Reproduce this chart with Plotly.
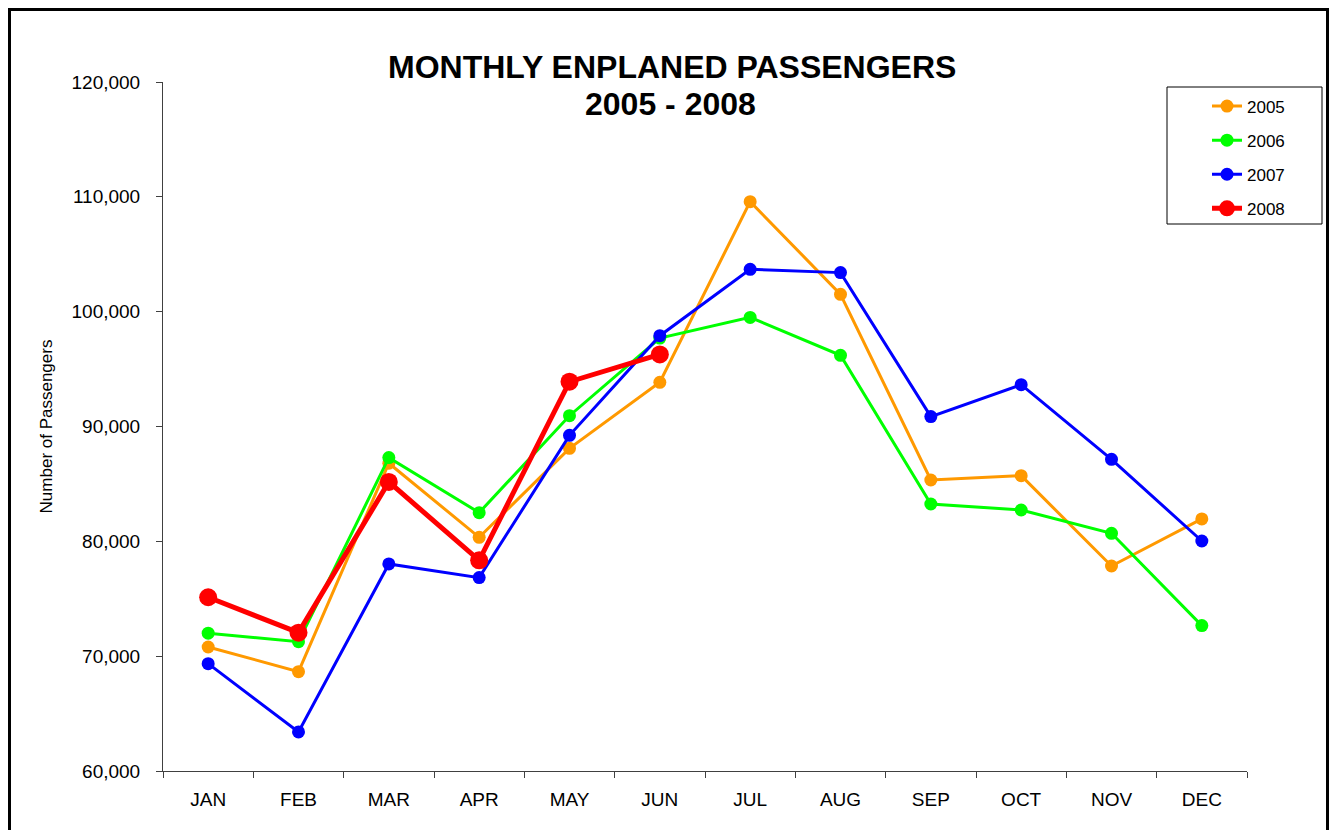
import plotly.graph_objects as go

months = ["JAN", "FEB", "MAR", "APR", "MAY", "JUN", "JUL", "AUG", "SEP", "OCT", "NOV", "DEC"]
y2005 = [70800, 68650, 86800, 80350, 88100, 93850, 109580, 101510, 85340, 85720, 77850, 81950]
y2006 = [72000, 71260, 87290, 82500, 90940, 97700, 99500, 96200, 83250, 82730, 80700, 72660]
y2007 = [69350, 63400, 78030, 76840, 89230, 97910, 103690, 103400, 90860, 93640, 87140, 80030]
y2008 = [75130, 72050, 85170, 78350, 93900, 96280]
series_names = ["2005", "2006", "2007", "2008"]
colors = ["#FF9900", "#00FF00", "#0000FF", "#FF0000"]
title_line1 = "MONTHLY ENPLANED PASSENGERS"
title_line2 = "2005 - 2008"

FONT = "Arial, Liberation Sans, sans-serif"

# page offset of the figure (browser body margin)
OFF = 8
W, H = 1337 - 2 * OFF, 838 - 2 * OFF
# plot area in page pixels
PX0, PX1, PY0, PY1 = 163, 1247, 82, 771
L, R, T, B = PX0 - OFF, W - (PX1 - OFF), PY0 - OFF, H - (PY1 - OFF)
pw, ph = W - L - R, H - T - B


def px_x(p):
    return (p - OFF - L) / pw


def px_y(p):
    return (H - B - (p - OFF)) / ph


fig = go.Figure()
for name, vals, col in zip(series_names, [y2005, y2006, y2007, y2008], colors):
    big = name == "2008"
    fig.add_trace(go.Scatter(
        x=months[:len(vals)], y=vals, name=name, mode="lines+markers",
        legendgroup=name,
        line=dict(color=col, width=5 if big else 3),
        marker=dict(color=col, size=18 if big else 13),
    ))

fig.update_layout(
    width=W, height=H,
    margin=dict(l=L, r=R, t=T, b=B),
    paper_bgcolor="white", plot_bgcolor="white",
    font=dict(family=FONT, color="black"),
    showlegend=True,
    legend=dict(
        x=px_x(1207), y=px_y(88.5), xanchor="left", yanchor="top",
        borderwidth=0, bgcolor="rgba(0,0,0,0)",
        font=dict(family=FONT, size=17, color="black"),
        tracegroupgap=9,
    ),
    xaxis=dict(
        type="category", categoryorder="array", categoryarray=months,
        range=[-0.5, 11.5], showgrid=False, zeroline=False,
        showline=True, linecolor="#404040", linewidth=1,
        ticks="outside", tickson="boundaries", ticklen=6, tickcolor="#404040",
        tickfont=dict(family=FONT, size=19, color="black"),
        ticklabelstandoff=11,
    ),
    yaxis=dict(
        range=[60000, 120000], dtick=10000, tickformat=",",
        showgrid=False, zeroline=False,
        showline=True, linecolor="#404040", linewidth=1,
        ticks="outside", ticklen=6, tickcolor="#404040",
        tickfont=dict(family=FONT, size=19, color="black"),
        ticklabelstandoff=12,
        title=dict(text="Number of Passengers", standoff=14,
                   font=dict(family=FONT, size=17, color="black")),
    ),
    annotations=[
        dict(text="<b>" + title_line1 + "</b>", xref="paper", yref="paper",
             x=px_x(672), y=px_y(67), xanchor="center", yanchor="middle",
             showarrow=False, font=dict(family=FONT, size=32, color="black")),
        dict(text="<b>" + title_line2 + "</b>", xref="paper", yref="paper",
             x=px_x(670), y=px_y(104), xanchor="center", yanchor="middle",
             showarrow=False, font=dict(family=FONT, size=32, color="black")),
    ],
    shapes=[
        dict(type="rect", xref="paper", yref="paper",
             x0=px_x(1167), x1=px_x(1322), y0=px_y(224), y1=px_y(87),
             line=dict(color="black", width=1), fillcolor="rgba(0,0,0,0)", layer="below"),
        dict(type="rect", xref="paper", yref="paper",
             x0=px_x(OFF + 1.5), x1=px_x(W + OFF - 1.5), y0=px_y(860), y1=px_y(OFF + 1.5),
             line=dict(color="black", width=3), fillcolor="rgba(0,0,0,0)", layer="above"),
    ],
)

fig.write_html("out.html")
